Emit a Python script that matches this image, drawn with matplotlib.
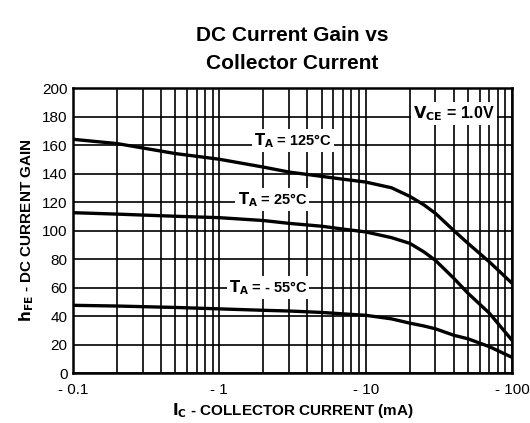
import numpy as np
import matplotlib
matplotlib.use("Agg")
import matplotlib.pyplot as plt
from matplotlib.ticker import FixedLocator, NullFormatter

plt.rcParams['font.family'] = ['Liberation Sans', 'DejaVu Sans']

ic = [0.1, 0.2, 0.5, 1, 2, 3, 5, 7, 10, 15, 20, 25, 30, 40, 50, 70, 100]
hfe_125 = [164, 161, 154, 150, 144.5, 141, 138, 136, 134, 130, 124, 118, 112, 100, 91, 78, 63]
hfe_25 = [112.5, 111.5, 110, 109, 107, 105, 103, 101, 99, 95, 91, 85, 79, 66.5, 56, 42, 23]
hfe_m55 = [47.5, 47, 46, 45, 44, 43.5, 42.5, 41.5, 40.5, 38, 35, 33, 31, 26.5, 24, 18.5, 11]

xticks = [0.1, 1, 10, 100]
xticklabels = ["- 0.1", "- 1", "- 10", "- 100"]
yticks = [0, 20, 40, 60, 80, 100, 120, 140, 160, 180, 200]

fig = plt.figure(figsize=(5.3, 4.23), dpi=100)
ax = fig.add_axes([73/530, 50/423, 439/530, 285/423])

ax.set_xscale('log')
ax.set_xlim(0.1, 100)
ax.set_ylim(0, 200)

minor = [m * d for d in [0.1, 1, 10] for m in range(2, 10)]
ax.xaxis.set_major_locator(FixedLocator(xticks))
ax.xaxis.set_minor_locator(FixedLocator(minor))
ax.xaxis.set_minor_formatter(NullFormatter())
ax.set_xticklabels(xticklabels)
ax.set_yticks(yticks)

ax.grid(True, which='both', axis='x', color='black', lw=1.2)
ax.grid(True, which='major', axis='y', color='black', lw=1.2)
ax.tick_params(which='both', length=0, labelsize=11)
ax.tick_params(axis='x', pad=7)
ax.tick_params(axis='y', pad=4)
for s in ax.spines.values():
    s.set_linewidth(1.8)

for y in (hfe_125, hfe_25, hfe_m55):
    ax.plot(ic, y, color='black', lw=2.4, zorder=3, solid_joinstyle='round')

bbox = dict(facecolor='white', edgecolor='none', pad=1.5)
ax.text(3.2, 163, r'$\mathbf{T_A}$' + ' = 125°C', fontsize=10.5, fontweight='bold',
        ha='center', va='center', bbox=bbox, zorder=4)
ax.text(2.3, 122, r'$\mathbf{T_A}$' + ' = 25°C', fontsize=10.5, fontweight='bold',
        ha='center', va='center', bbox=bbox, zorder=4)
ax.text(2.15, 60, r'$\mathbf{T_A}$' + ' = - 55°C', fontsize=10.5, fontweight='bold',
        ha='center', va='center', bbox=bbox, zorder=4)
ax.text(40, 182, r'$\mathbf{V_{CE}}$' + ' = 1.0V', fontsize=11.5, fontweight='bold',
        ha='center', va='center', bbox=bbox, zorder=4)

ax.set_xlabel(r'$\mathbf{I_C}$' + ' - COLLECTOR CURRENT (mA)', fontsize=11, fontweight='bold', labelpad=3)
ax.set_ylabel(r'$\mathbf{h_{FE}}$' + ' - DC CURRENT GAIN', fontsize=11, fontweight='bold', labelpad=4)
ax.set_title('DC Current Gain vs\nCollector Current', fontsize=15, fontweight='bold', pad=14,
             linespacing=1.55)

fig.savefig('out.png', dpi=100)
